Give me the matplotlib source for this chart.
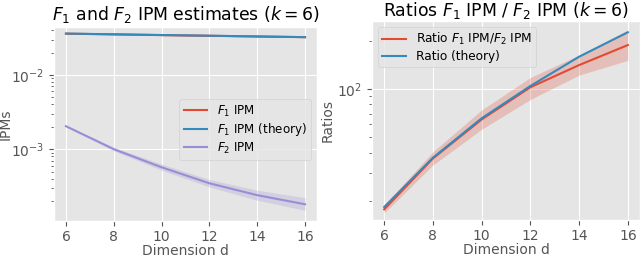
import numpy as np
import matplotlib
matplotlib.use("Agg")
import matplotlib.pyplot as plt

plt.style.use("ggplot")

dims = [6, 8, 10, 12, 14, 16]
f1_ipm = [0.0360, 0.0352, 0.0344, 0.0337, 0.0330, 0.0323]
f1_theory = [0.0361, 0.0353, 0.0345, 0.0338, 0.0330, 0.0323]
f1_lo = [0.0355, 0.0347, 0.0339, 0.0332, 0.0325, 0.0318]
f1_hi = [0.0365, 0.0357, 0.0349, 0.0342, 0.0335, 0.0328]
f2_ipm = [0.00204, 0.00100, 0.00057, 0.000347, 0.000240, 0.000181]
f2_lo = [0.00200, 0.00095, 0.00052, 0.000310, 0.000205, 0.000150]
f2_hi = [0.00208, 0.00106, 0.00063, 0.000390, 0.000280, 0.000222]

ratio = [17.7, 36.8, 64.5, 102.5, 141, 188]
ratio_lo = [16.8, 33.5, 56.0, 86.0, 122, 151]
ratio_hi = [18.8, 40.5, 74.0, 118, 163, 234]
ratio_theory = [18.3, 37.2, 65.6, 104.4, 159, 226]

fig = plt.figure(figsize=(6.4, 2.58), dpi=100)
ax1 = fig.add_axes([54/640, 37.5/258, 263/640, 193.5/258])
ax2 = fig.add_axes([372/640, 38.5/258, 268/640, 198.8/258])

c_red, c_blue, c_purple = "#E24A33", "#348ABD", "#988ED5"

ax1.plot(dims, f1_ipm, color=c_red, label=r"$F_1$ IPM")
ax1.fill_between(dims, f1_lo, f1_hi, color=c_red, alpha=0.25, lw=0)
ax1.plot(dims, f1_theory, color=c_blue, label=r"$F_1$ IPM (theory)")
ax1.plot(dims, f2_ipm, color=c_purple, label=r"$F_2$ IPM")
ax1.fill_between(dims, f2_lo, f2_hi, color=c_purple, alpha=0.25, lw=0)
ax1.set_yscale("log")
ax1.set_ylim(10**-3.961, 10**-1.354)
ax1.set_xticks([6, 8, 10, 12, 14, 16])
ax1.set_xlabel("Dimension d", fontsize=10, labelpad=0)
ax1.set_ylabel("IPMs", fontsize=10)
ax1.yaxis.set_label_coords(-41.5/263, 0.5)
ax1.set_title(r"$F_1$ and $F_2$ IPM estimates ($k=6$)", fontsize=12.4, pad=5)
ax1.legend(loc="center right", bbox_to_anchor=(1.0, 0.47), fontsize=8.6,
           handlelength=2.0, borderpad=0.35, labelspacing=0.2)

ax2.plot(dims, ratio, color=c_red, label=r"Ratio $F_1$ IPM/$F_2$ IPM")
ax2.fill_between(dims, ratio_lo, ratio_hi, color=c_red, alpha=0.25, lw=0)
ax2.plot(dims, ratio_theory, color=c_blue, label="Ratio (theory)")
ax2.set_yscale("log")
ax2.set_ylim(15.3, 267)
ax2.set_xticks([6, 8, 10, 12, 14, 16])
ax2.set_xlabel("Dimension d", fontsize=10, labelpad=0)
ax2.set_ylabel("Ratios", fontsize=10, labelpad=2)
ax2.set_title(r"Ratios $F_1$ IPM / $F_2$ IPM ($k=6$)", fontsize=12.4, pad=3)
ax2.legend(loc="upper left", fontsize=8.7, handlelength=2.0,
           borderpad=0.35, labelspacing=0.25)

for ax in (ax1, ax2):
    ax.tick_params(labelsize=10)

fig.savefig("out.png", dpi=100)
